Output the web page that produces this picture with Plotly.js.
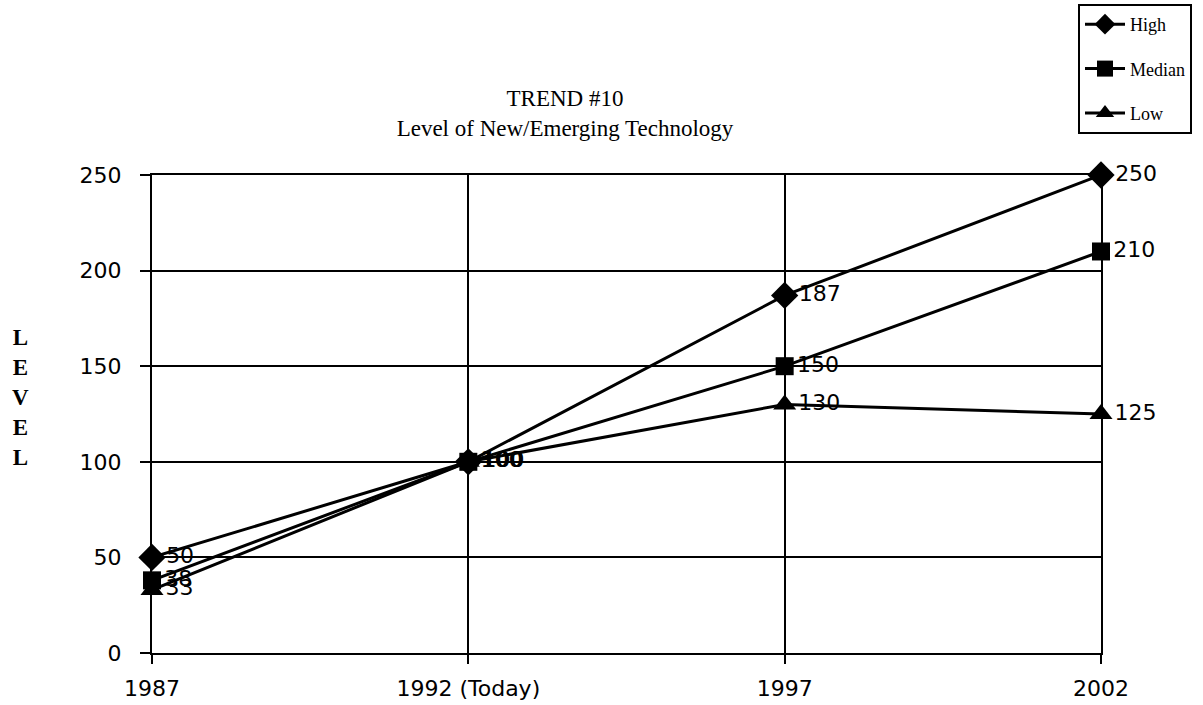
<!DOCTYPE html>
<html>
<head>
<meta charset="utf-8">
<script src="https://cdn.plot.ly/plotly-3.0.1.min.js"></script>
<style>html,body{margin:0;padding:0;background:#fff;}#chart{width:1203px;height:705px;}</style>
</head>
<body>
<div id="chart"></div>
<script>
const categories = ['1987', '1992 (Today)', '1997', '2002'];
const highValues = [50, 100, 187, 250];
const medianValues = [38, 100, 150, 210];
const lowValues = [33, 100, 130, 125];
const yTicks = [0, 50, 100, 150, 200, 250];

const sans = 'DejaVu Sans, Verdana, sans-serif';
const serif = 'Liberation Serif, Times New Roman, serif';

function series(name, values, symbol, size) {
  return {
    type: 'scatter', mode: 'lines+markers+text', name: name,
    x: categories, y: values,
    text: values.map(String), textposition: 'middle right',
    textfont: {family: sans, size: 22, color: '#000'},
    line: {color: '#000', width: 3},
    marker: {symbol: symbol, size: size, color: '#000'},
    legendgroup: name, cliponaxis: false
  };
}

const data = [
  series('High', highValues, 'diamond', 21),
  series('Median', medianValues, 'square', 18),
  series('Low', lowValues, 'triangle-up', 20)
];

const layout = {
  width: 1203, height: 705,
  paper_bgcolor: '#fff', plot_bgcolor: '#fff',
  margin: {l: 152, r: 102, t: 175, b: 52, autoexpand: false},
  showlegend: true,
  title: {
    text: 'TREND #10<br>Level of New/Emerging Technology',
    font: {family: serif, size: 23, color: '#000'},
    x: 565 / 1203, xanchor: 'center', xref: 'container',
    y: 1 - 106 / 705, yanchor: 'top', yref: 'container'
  },
  xaxis: {
    type: 'category', range: [0, 3],
    showgrid: true, gridcolor: '#000', gridwidth: 2,
    showline: true, linecolor: '#000', linewidth: 2, mirror: true,
    ticks: 'outside', ticklen: 9, tickwidth: 2, tickcolor: '#000',
    ticklabelstandoff: 6,
    tickfont: {family: sans, size: 22, color: '#000'},
    zeroline: false, fixedrange: true
  },
  yaxis: {
    range: [0, 250], tickvals: yTicks,
    showgrid: true, gridcolor: '#000', gridwidth: 2,
    showline: true, linecolor: '#000', linewidth: 2, mirror: true,
    ticks: 'outside', ticklen: 10, tickwidth: 2, tickcolor: '#000',
    ticklabelstandoff: 14,
    tickfont: {family: sans, size: 22, color: '#000'},
    zeroline: false, fixedrange: true
  },
  legend: {
    x: (1078 - 152) / 949, xanchor: 'left',
    y: 1 + 171 / 478, yanchor: 'top',
    bordercolor: '#000', borderwidth: 2, bgcolor: '#fff',
    font: {family: serif, size: 18, color: '#000'},
    traceorder: 'grouped', tracegroupgap: 18,
    itemwidth: 40
  },
  annotations: [{
    text: '<b>L<br>E<br>V<br>E<br>L</b>',
    xref: 'paper', yref: 'paper',
    x: -(152 - 20) / 949, y: (653 - 397) / 478,
    xanchor: 'center', yanchor: 'middle', showarrow: false,
    font: {family: serif, size: 23, color: '#000'}, align: 'center'
  }]
};

Plotly.newPlot('chart', data, layout, {displayModeBar: false, staticPlot: true});
</script>
</body>
</html>
